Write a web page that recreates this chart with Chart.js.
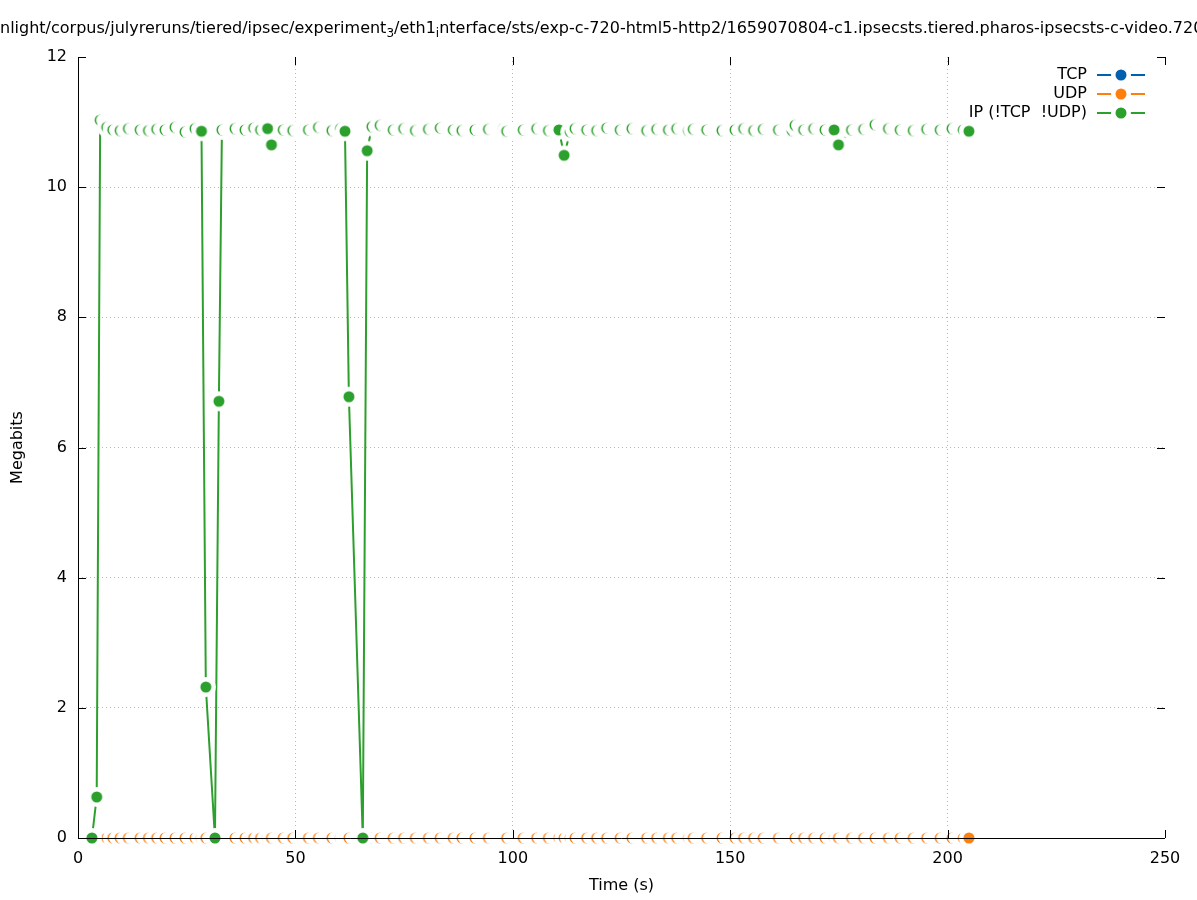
<!DOCTYPE html>
<html>
<head>
<meta charset="utf-8">
<script src="https://cdn.jsdelivr.net/npm/chart.js@4.4.1/dist/chart.umd.min.js"></script>
<style>
  html, body { margin: 0; padding: 0; background: #fff; }
  #wrap { width: 1197px; height: 900px; }
</style>
</head>
<body>
<div id="wrap"><canvas id="chart" width="1197" height="900"></canvas></div>
<script>
// 采样时间 (s)
const timeS = [
  3.2, 4.3, 5.1, 6.6, 8.0, 9.7, 11.6, 14.3, 16.2, 18.1, 20.0, 22.3, 24.6, 26.9, 28.4,
  29.4, 31.5, 32.4, 33.1, 36.1, 38.4, 40.4, 42.0, 43.6, 44.5, 47.2, 49.4, 52.2, 53.0,
  55.3, 58.4, 60.4, 61.4, 62.3, 65.5, 66.5, 67.6, 69.5, 72.5, 74.9, 77.6, 80.6, 83.3,
  86.3, 88.3, 91.3, 94.4, 97.9, 98.6, 102.4, 105.5, 108.2, 110.6, 111.8, 113.2, 114.3,
  117.0, 119.3, 121.6, 124.7, 127.4, 130.8, 133.1, 135.8, 137.7, 140.4, 141.5, 144.6,
  148.1, 150.4, 151.1, 153.1, 155.4, 157.6, 161.1, 164.2, 164.9, 166.9, 169.2, 171.8,
  173.9, 174.9, 177.9, 180.7, 183.3, 186.4, 189.1, 192.1, 195.2, 198.3, 201.0, 203.6, 204.9
];

// IP (!TCP !UDP) 流量, Megabits
const ipMbits = [
  0, 0.63, 11.03, 10.92, 10.88, 10.87, 10.9, 10.88, 10.87, 10.89, 10.88, 10.92, 10.85, 10.9, 10.86,
  2.32, 0, 6.71, 10.88, 10.9, 10.88, 10.91, 10.88, 10.9, 10.65, 10.88, 10.87, 10.9, 10.88,
  10.92, 10.87, 10.9, 10.86, 6.78, 0, 10.56, 10.93, 10.95, 10.88, 10.9, 10.87, 10.89, 10.91,
  10.88, 10.87, 10.88, 10.89, 10.9, 10.86, 10.88, 10.9, 10.87, 10.88, 10.49, 10.85, 10.9,
  10.88, 10.87, 10.91, 10.88, 10.9, 10.87, 10.89, 10.88, 10.9, 10.87, 10.89, 10.88,
  10.87, 10.91, 10.88, 10.9, 10.87, 10.89, 10.88, 10.87, 10.95, 10.88, 10.9, 10.88,
  10.88, 10.65, 10.88, 10.89, 10.96, 10.9, 10.88, 10.87, 10.89, 10.88, 10.9, 10.88, 10.86
];

// TCP / UDP 流量 (全程为 0)
const tcpMbits = [
  0, 0, 0, 0, 0, 0, 0, 0, 0, 0, 0, 0, 0, 0, 0,
  0, 0, 0, 0, 0, 0, 0, 0, 0, 0, 0, 0, 0, 0,
  0, 0, 0, 0, 0, 0, 0, 0, 0, 0, 0, 0, 0, 0,
  0, 0, 0, 0, 0, 0, 0, 0, 0, 0, 0, 0, 0,
  0, 0, 0, 0, 0, 0, 0, 0, 0, 0, 0, 0,
  0, 0, 0, 0, 0, 0, 0, 0, 0, 0, 0, 0,
  0, 0, 0, 0, 0, 0, 0, 0, 0, 0, 0, 0, 0
];
const udpMbits = [
  0, 0, 0, 0, 0, 0, 0, 0, 0, 0, 0, 0, 0, 0, 0,
  0, 0, 0, 0, 0, 0, 0, 0, 0, 0, 0, 0, 0, 0,
  0, 0, 0, 0, 0, 0, 0, 0, 0, 0, 0, 0, 0, 0,
  0, 0, 0, 0, 0, 0, 0, 0, 0, 0, 0, 0, 0,
  0, 0, 0, 0, 0, 0, 0, 0, 0, 0, 0, 0,
  0, 0, 0, 0, 0, 0, 0, 0, 0, 0, 0, 0,
  0, 0, 0, 0, 0, 0, 0, 0, 0, 0, 0, 0, 0
];

const seriesNames = ['TCP', 'UDP', 'IP (!TCP  !UDP)'];
const seriesColors = ['#0060ad', '#ff7f0e', '#2ca02c'];
const xTicks = [0, 50, 100, 150, 200, 250];
const yTicks = [0, 2, 4, 6, 8, 10, 12];

const titleParts = [
  { text: 'nlight/corpus/julyreruns/tiered/ipsec/experiment' },
  { text: '3', sub: true },
  { text: '/eth1' },
  { text: 'i', sub: true },
  { text: 'nterface/sts/exp-c-720-html5-http2/1659070804-c1.ipsecsts.tiered.pharos-ipsecsts-c-video.720' }
];

const FONT = '"DejaVu Sans", sans-serif';

// 点标记: 白色底圆 + 实心圆 (或被下一个点遮住后只剩的月牙)
function makeMarker(color, crescent) {
  const c = document.createElement('canvas');
  c.width = 24;
  c.height = 24;
  const g = c.getContext('2d');
  g.fillStyle = '#fff';
  g.beginPath(); g.arc(12, 12, 10, 0, Math.PI * 2); g.fill();
  g.fillStyle = color;
  g.beginPath(); g.arc(12, 12, 5.5, 0, Math.PI * 2); g.fill();
  if (crescent) {
    g.fillStyle = '#fff';
    g.beginPath(); g.arc(13.9, 12, 5.9, 0, Math.PI * 2); g.fill();
  }
  return c;
}

function toPoints(values) {
  return timeS.map((t, i) => ({ x: t, y: values[i] }));
}

function makeDataset(idx, values, order) {
  const disc = makeMarker(seriesColors[idx], false);
  const moon = makeMarker(seriesColors[idx], true);
  return {
    label: seriesNames[idx],
    data: toPoints(values),
    borderColor: seriesColors[idx],
    backgroundColor: seriesColors[idx],
    borderWidth: 2,
    pointRadius: 10,
    pointStyle: ctx => {
      const i = ctx.dataIndex;
      if (i === undefined || i >= values.length - 1) return disc;
      return Math.abs(values[i + 1] - values[i]) < 0.2 ? moon : disc;
    },
    tension: 0,
    clip: false,
    order: order
  };
}

// 边框、内向刻度、图例、标题
const framePlugin = {
  id: 'frame',
  afterDatasetsDraw(chart) {
    const ctx = chart.ctx;
    const area = chart.chartArea;
    const xs = chart.scales.x;
    const ys = chart.scales.y;
    const tick = 8;
    ctx.save();
    ctx.strokeStyle = '#000';
    ctx.lineWidth = 1;
    ctx.beginPath();
    xTicks.forEach(v => {
      const px = Math.round(xs.getPixelForValue(v)) + 0.5;
      ctx.moveTo(px, area.bottom); ctx.lineTo(px, area.bottom - tick);
      ctx.moveTo(px, area.top); ctx.lineTo(px, area.top + tick);
    });
    yTicks.forEach(v => {
      const py = Math.round(ys.getPixelForValue(v)) + 0.5;
      ctx.moveTo(area.left, py); ctx.lineTo(area.left + tick, py);
      ctx.moveTo(area.right, py); ctx.lineTo(area.right - tick, py);
    });
    ctx.stroke();
    // 左边框和底边框
    ctx.beginPath();
    ctx.moveTo(Math.round(area.left) + 0.5, area.top);
    ctx.lineTo(Math.round(area.left) + 0.5, Math.round(area.bottom) + 0.5);
    ctx.lineTo(area.right, Math.round(area.bottom) + 0.5);
    ctx.stroke();
    ctx.restore();
  },
  afterDraw(chart) {
    const ctx = chart.ctx;
    const area = chart.chartArea;
    ctx.save();
    ctx.fillStyle = '#000';

    // 图例
    ctx.font = '16px ' + FONT;
    ctx.textAlign = 'right';
    ctx.textBaseline = 'middle';
    seriesNames.forEach((name, i) => {
      const y = 75 + i * 19;
      ctx.fillStyle = '#000';
      ctx.fillText(name, 1087, y);
      ctx.strokeStyle = seriesColors[i];
      ctx.lineWidth = 2;
      ctx.beginPath();
      ctx.moveTo(1097, y); ctx.lineTo(1145, y);
      ctx.stroke();
      ctx.fillStyle = '#fff';
      ctx.beginPath(); ctx.arc(1121, y, 10, 0, Math.PI * 2); ctx.fill();
      ctx.fillStyle = seriesColors[i];
      ctx.beginPath(); ctx.arc(1121, y, 5.5, 0, Math.PI * 2); ctx.fill();
    });

    // 坐标轴标题
    ctx.fillStyle = '#000';
    ctx.textAlign = 'center';
    ctx.fillText('Time (s)', (area.left + area.right) / 2, 886);
    ctx.save();
    ctx.translate(18, (area.top + area.bottom) / 2);
    ctx.rotate(-Math.PI / 2);
    ctx.fillText('Megabits', 0, 0);
    ctx.restore();

    // 图表标题 (超出画布)
    ctx.textAlign = 'left';
    ctx.textBaseline = 'alphabetic';
    let x = 0;
    titleParts.forEach(p => {
      ctx.font = (p.sub ? '12px ' : '16px ') + FONT;
      ctx.fillText(p.text, x, p.sub ? 37 : 33);
      x += ctx.measureText(p.text).width;
    });
    ctx.restore();
  }
};

Chart.defaults.font.family = FONT;
Chart.defaults.font.size = 16;
Chart.defaults.color = '#000';

const gridColor = c => (c.tick && (c.index === 0 || c.index === c.chart.scales[c.scale.id].ticks.length - 1)) ? 'rgba(0,0,0,0)' : '#b8b8b8';

new Chart(document.getElementById('chart').getContext('2d'), {
  type: 'line',
  data: {
    datasets: [
      makeDataset(0, tcpMbits, 3),
      makeDataset(1, udpMbits, 2),
      makeDataset(2, ipMbits, 1)
    ]
  },
  options: {
    responsive: false,
    animation: false,
    devicePixelRatio: 1,
    layout: { padding: { top: 57, right: 32, left: 0, bottom: 0 } },
    plugins: {
      legend: { display: false },
      tooltip: { enabled: false },
      title: { display: false }
    },
    scales: {
      x: {
        type: 'linear',
        min: 0,
        max: 250,
        afterFit(s) { s.height = 62; },
        afterBuildTicks(s) { s.ticks = xTicks.map(v => ({ value: v })); },
        ticks: { padding: 11, maxRotation: 0, autoSkip: false, font: { size: 16 } },
        grid: { color: gridColor, lineWidth: 1, drawTicks: false },
        border: { display: false, dash: [1, 3] }
      },
      y: {
        type: 'linear',
        min: 0,
        max: 12,
        afterFit(s) { s.width = 78; },
        afterBuildTicks(s) { s.ticks = yTicks.map(v => ({ value: v })); },
        ticks: { padding: 11, autoSkip: false, font: { size: 16 } },
        grid: { color: gridColor, lineWidth: 1, drawTicks: false },
        border: { display: false, dash: [1, 3] }
      }
    }
  },
  plugins: [framePlugin]
});
</script>
</body>
</html>
